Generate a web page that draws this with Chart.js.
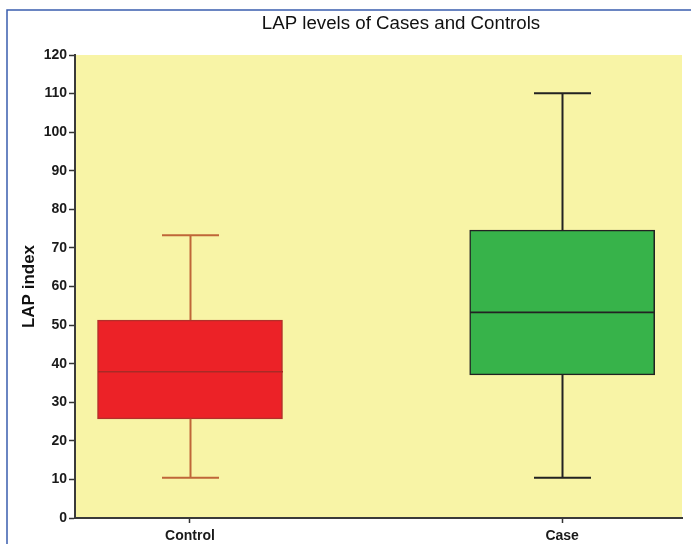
<!DOCTYPE html>
<html>
<head>
<meta charset="utf-8">
<script src="https://cdn.jsdelivr.net/npm/chart.js@4.4.1/dist/chart.umd.min.js"></script>
<style>
  html, body { margin: 0; padding: 0; background: #ffffff; }
  #wrap { position: relative; width: 691px; height: 544px; }
</style>
</head>
<body>
<div id="wrap"><canvas id="c" width="691" height="544"></canvas></div>
<script>
// Box-plot summary of LAP index per group
const categories   = ['Control', 'Case'];
const minValues    = [10.4, 10.4];
const q1Values     = [25.7, 37.1];
const medianValues = [37.9, 53.3];
const q3Values     = [51.3, 74.6];
const maxValues    = [73.3, 110.1];
const yTickValues  = [0, 10, 20, 30, 40, 50, 60, 70, 80, 90, 100, 110, 120];

const chartTitle = 'LAP levels of Cases and Controls';
const yTitle = 'LAP index';

const boxStyle = {
  fill:    ['#EC2227', '#37B34A'],
  border:  ['#B3302A', '#222222'],
  whisker: ['#BF6638', '#222222'],
  median:  ['#A92A26', '#222222']
};

const FONT = '"Liberation Sans", Arial, Helvetica, sans-serif';

// Pale yellow plot background + outer blue frame lines
const backdrop = {
  id: 'backdrop',
  beforeDraw(chart) {
    const { ctx, chartArea: a } = chart;
    ctx.save();
    ctx.fillStyle = '#F8F4A6';
    ctx.fillRect(a.left, a.top, a.right - a.left, a.bottom - a.top);
    ctx.strokeStyle = '#3A5DAE';
    ctx.lineWidth = 1.5;
    ctx.beginPath();
    ctx.moveTo(7, chart.height);
    ctx.lineTo(7, 10);
    ctx.lineTo(chart.width, 10);
    ctx.stroke();
    ctx.restore();
  }
};

// Whiskers, caps and median lines, placed through the chart scales
const whiskers = {
  id: 'whiskers',
  afterDatasetsDraw(chart) {
    const { ctx } = chart;
    const xs = chart.scales.x, ys = chart.scales.y;
    const capHalf = 28.5, boxHalf = 92.5;
    ctx.save();
    categories.forEach((c, i) => {
      const x = Math.round(xs.getPixelForValue(i + 1)) + 0.5;
      const yMin = ys.getPixelForValue(minValues[i]);
      const yQ1 = ys.getPixelForValue(q1Values[i]);
      const yMed = ys.getPixelForValue(medianValues[i]);
      const yQ3 = ys.getPixelForValue(q3Values[i]);
      const yMax = ys.getPixelForValue(maxValues[i]);
      ctx.strokeStyle = boxStyle.whisker[i];
      ctx.lineWidth = 2;
      ctx.beginPath();
      ctx.moveTo(x, yQ3); ctx.lineTo(x, yMax);
      ctx.moveTo(x - capHalf, yMax); ctx.lineTo(x + capHalf, yMax);
      ctx.moveTo(x, yQ1); ctx.lineTo(x, yMin);
      ctx.moveTo(x - capHalf, yMin); ctx.lineTo(x + capHalf, yMin);
      ctx.stroke();
      ctx.strokeStyle = boxStyle.median[i];
      ctx.lineWidth = 1.6;
      ctx.beginPath();
      ctx.moveTo(x - boxHalf, yMed); ctx.lineTo(x + boxHalf, yMed);
      ctx.stroke();
    });
    ctx.restore();
  }
};

// Chart heading
const heading = {
  id: 'heading',
  afterDraw(chart) {
    const { ctx } = chart;
    ctx.save();
    ctx.font = '18.7px ' + FONT;
    ctx.fillStyle = '#111111';
    ctx.textAlign = 'center';
    ctx.textBaseline = 'alphabetic';
    ctx.fillText(chartTitle, 401, 29);
    ctx.restore();
  }
};

new Chart(document.getElementById('c'), {
  type: 'bar',
  data: {
    datasets: [{
      data: categories.map((c, i) => ({ x: i + 1, y: [q1Values[i], q3Values[i]] })),
      backgroundColor: boxStyle.fill,
      borderColor: boxStyle.border,
      borderWidth: 1.5,
      borderSkipped: false,
      barThickness: 185,
      grouped: false
    }]
  },
  options: {
    responsive: false,
    animation: false,
    layout: { padding: { left: 15, right: 9, top: 55, bottom: 0 } },
    plugins: {
      legend: { display: false },
      tooltip: { enabled: false },
      title: { display: false }
    },
    scales: {
      x: {
        type: 'linear',
        offset: false,
        min: 0.691,
        max: 2.322,
        afterBuildTicks: (s) => { s.ticks = categories.map((c, i) => ({ value: i + 1 })); },
        afterFit: (s) => { s.height = 26; },
        ticks: {
          callback: (v) => categories[v - 1],
          font: { family: FONT, size: 14, weight: 'bold' },
          color: '#1a1a1a',
          padding: 5,
          maxRotation: 0
        },
        grid: { offset: false, drawOnChartArea: false, drawTicks: true, tickLength: 5, tickColor: '#333333', tickWidth: 1.5 },
        border: { display: true, color: '#3a3a3a', width: 2 }
      },
      y: {
        min: 0,
        max: 120,
        afterBuildTicks: (s) => { s.ticks = yTickValues.map(v => ({ value: v })); },
        afterFit: (s) => { s.width = 60; },
        ticks: {
          font: { family: FONT, size: 14, weight: 'bold' },
          color: '#1a1a1a',
          padding: 2
        },
        grid: { drawOnChartArea: false, drawTicks: true, tickLength: 6, tickColor: '#333333', tickWidth: 1.5 },
        border: { display: true, color: '#3a3a3a', width: 2 },
        title: {
          display: true,
          text: yTitle,
          font: { family: FONT, size: 17, weight: 'bold' },
          color: '#111111',
          padding: { top: 4, bottom: 0 }
        }
      }
    }
  },
  plugins: [backdrop, whiskers, heading]
});
</script>
</body>
</html>
